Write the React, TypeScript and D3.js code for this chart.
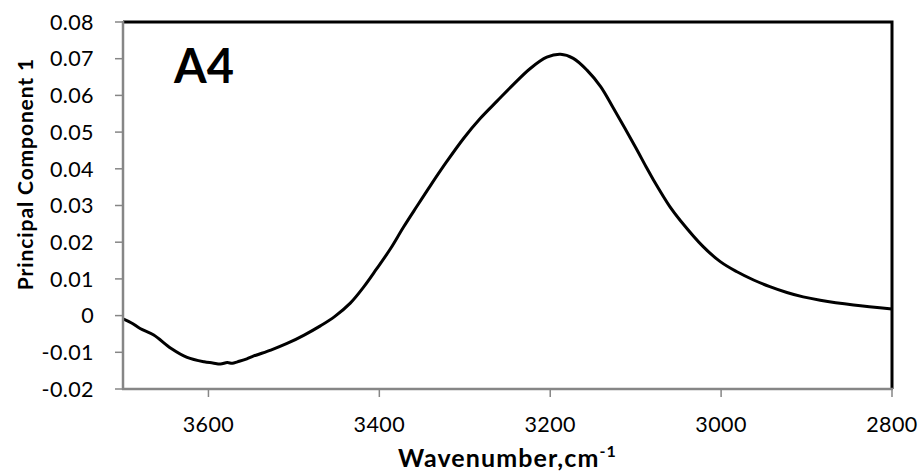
import React, { useEffect, useRef } from "react";
import * as d3 from "d3";

const wavenumbers = [
  3700, 3690, 3680, 3664, 3644, 3625, 3605, 3595, 3586, 3578, 3572, 3566, 3555, 3547,
  3527, 3508, 3488, 3469, 3452, 3434, 3418, 3403, 3387, 3372, 3356, 3340, 3321,
  3301, 3282, 3262, 3243, 3223, 3204, 3188, 3173, 3157, 3141, 3126, 3100, 3087,
  3079, 3060, 3048, 3021, 3001, 2982, 2962, 2943, 2923, 2904, 2884, 2845, 2800,
];
const pc1 = [
  -0.0009, -0.002, -0.0035, -0.0053, -0.0089, -0.0114, -0.0126, -0.0129, -0.0132, -0.0128,
  -0.013, -0.0126, -0.0118, -0.011, -0.0094, -0.0076, -0.0053, -0.0028, -0.0002, 0.0034,
  0.0079, 0.0128, 0.0182, 0.024, 0.0298, 0.0355, 0.042, 0.0484, 0.0537, 0.0585,
  0.063, 0.0674, 0.0704, 0.0712, 0.0701, 0.0669, 0.0624, 0.0565, 0.0458, 0.0402,
  0.0369, 0.0297, 0.026, 0.0188, 0.0147, 0.012, 0.0097, 0.0079, 0.0063,
  0.0051, 0.0042, 0.0029, 0.0018,
];
const xTicks = [3600, 3400, 3200, 3000, 2800];
const yTicks = [-0.02, -0.01, 0, 0.01, 0.02, 0.03, 0.04, 0.05, 0.06, 0.07, 0.08];
const panelLabel = "A4";
const yTitle = "Principal Component 1";
const xTitle = "Wavenumber,cm";
const xTitleSup = "-1";

const W = 921;
const H = 471;
const M = { left: 123, right: 892, top: 22, bottom: 389 };

export default function App() {
  const ref = useRef<SVGSVGElement>(null);
  useEffect(() => {
    const svg = d3.select(ref.current);
    svg.selectAll("*").remove();
    const x = d3.scaleLinear().domain([3700, 2800]).range([M.left, M.right]);
    const y = d3.scaleLinear().domain([-0.02, 0.08]).range([M.bottom, M.top]);
    const font = "Lato, 'Open Sans', sans-serif";
    const axisColor = "#868686";
    const fmt = (t: number) => (t === 0 ? "0" : d3.format(".2f")(t).replace("\u2212", "-"));

    svg.append("rect").attr("width", W).attr("height", H).attr("fill", "#fff");

    // plot border (top/right black)
    svg.append("path")
      .attr("d", `M${M.left},${M.top}H${M.right}V${M.bottom}`)
      .attr("fill", "none").attr("stroke", "#000").attr("stroke-width", 3);

    // data line
    const data = wavenumbers.map((w, i) => [w, pc1[i]] as [number, number]);
    const line = d3.line<[number, number]>()
      .x((d) => x(d[0])).y((d) => y(d[1]))
      .curve(d3.curveCatmullRom.alpha(0.5));
    svg.append("path").datum(data).attr("d", line)
      .attr("fill", "none").attr("stroke", "#000").attr("stroke-width", 3)
      .attr("stroke-linejoin", "round");

    // y axis
    svg.append("line").attr("x1", M.left).attr("x2", M.left)
      .attr("y1", M.top - 1).attr("y2", M.bottom + 1)
      .attr("stroke", axisColor).attr("stroke-width", 2.5);
    yTicks.forEach((t) => {
      svg.append("line").attr("x1", M.left - 8).attr("x2", M.left)
        .attr("y1", y(t)).attr("y2", y(t)).attr("stroke", axisColor).attr("stroke-width", 1.5);
      svg.append("text").attr("x", 94).attr("y", y(t)).attr("dy", "0.36em")
        .attr("text-anchor", "end").attr("font-family", font).attr("font-size", 21.5)
        .attr("letter-spacing", 0.4)
        .attr("fill", "#000").text(fmt(t));
    });

    // x axis
    svg.append("line").attr("x1", M.left - 1).attr("x2", M.right + 1)
      .attr("y1", M.bottom).attr("y2", M.bottom)
      .attr("stroke", axisColor).attr("stroke-width", 2.5);
    xTicks.forEach((t) => {
      svg.append("line").attr("x1", x(t)).attr("x2", x(t))
        .attr("y1", M.bottom).attr("y2", M.bottom + 8).attr("stroke", axisColor).attr("stroke-width", 1.5);
      svg.append("text").attr("x", x(t)).attr("y", 432)
        .attr("text-anchor", "middle").attr("font-family", font).attr("font-size", 21.5)
        .attr("letter-spacing", 0.4)
        .attr("fill", "#000").text(String(t));
    });

    // titles
    const xt = svg.append("text").attr("x", (M.left + M.right) / 2).attr("y", 467)
      .attr("text-anchor", "middle").attr("font-family", font).attr("font-size", 25)
      .attr("letter-spacing", 1.1)
      .attr("font-weight", "bold").attr("fill", "#000");
    xt.append("tspan").text(xTitle);
    xt.append("tspan").attr("dy", -10).attr("font-size", 16).text(xTitleSup);

    svg.append("text").attr("transform", `translate(33,174) rotate(-90)`)
      .attr("text-anchor", "middle").attr("font-family", font).attr("font-size", 21)
      .attr("letter-spacing", 0.9)
      .attr("font-weight", "bold").attr("fill", "#000").text(yTitle);

    svg.append("text").attr("x", 174).attr("y", 83).attr("font-family", font)
      .attr("font-size", 47).attr("font-weight", "bold").attr("fill", "#000").text(panelLabel);
  }, []);
  return (
    <svg ref={ref} width={W} height={H}
      style={{ position: "absolute", left: 0, top: 0, display: "block" }} />
  );
}
